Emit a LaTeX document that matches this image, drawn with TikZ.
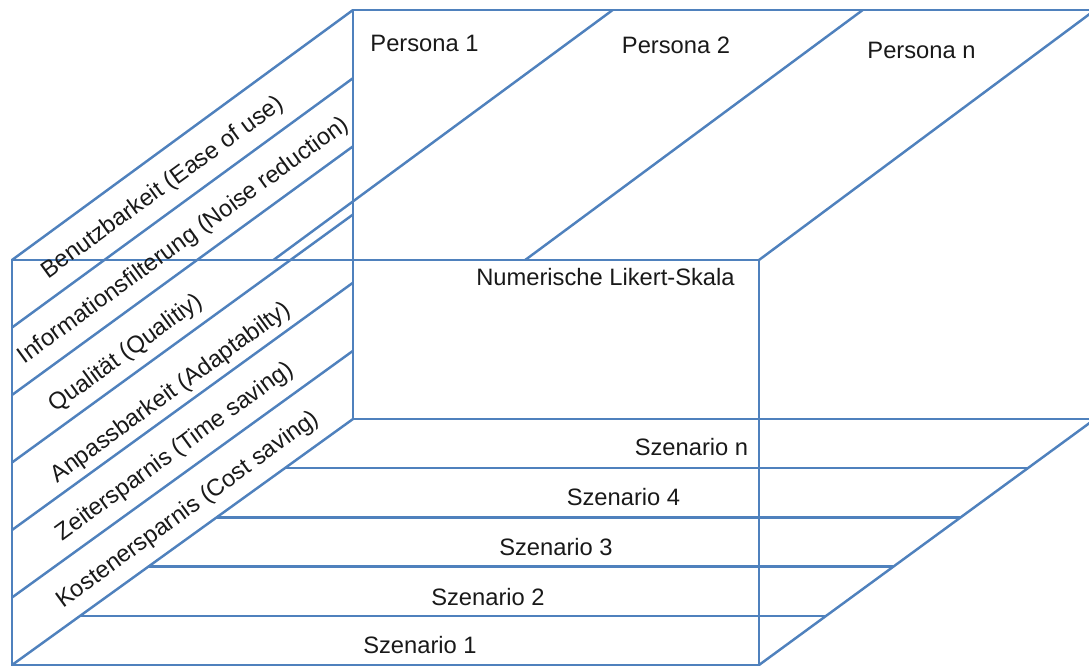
\documentclass[tikz,border=0pt]{standalone}
\usepackage{fontspec}
\setmainfont{Liberation Sans}
\usetikzlibrary{calc}
\definecolor{cubeblue}{HTML}{4F81BD}

\begin{document}
\begin{tikzpicture}[line width = 1.4pt,
                    edge/.style = {draw = cubeblue},
                    lbl/.style = {font = \fontsize{13.5}{16}\selectfont, text = black!90, inner sep = 0pt},
                    crit/.style = {lbl, rotate = 36}]

\useasboundingbox (0,0) rectangle (21.78,-13.36);
\clip (0,0) rectangle (21.78,-13.36);

% corners of the cube
\coordinate (A) at (0.24,-5.2);
\coordinate (B) at (15.18,-5.2);
\coordinate (C) at (15.18,-13.3);
\coordinate (D) at (0.24,-13.3);
\coordinate (E) at (7.06,-0.2);
\coordinate (F) at (21.9,-0.2);
\coordinate (G) at (21.9,-8.38);
\coordinate (H) at (7.06,-8.38);

% front face and back edges
\draw[edge] (A) rectangle (C);
\draw[edge] (F) -- (E) -- (H) -- (G);

% depth edges
\draw[edge] (A) -- (E);
\draw[edge] (B) -- (F);
\draw[edge] (C) -- (G);
\draw[edge] (D) -- (H);

% criteria bands on the left face
\draw[edge] ($(A)!0.1667!(D)$) -- ($(E)!0.1667!(H)$);
\draw[edge] ($(A)!0.3333!(D)$) -- ($(E)!0.3333!(H)$);
\draw[edge] ($(A)!0.5!(D)$) -- ($(E)!0.5!(H)$);
\draw[edge] ($(A)!0.6667!(D)$) -- ($(E)!0.6667!(H)$);
\draw[edge] ($(A)!0.8333!(D)$) -- ($(E)!0.8333!(H)$);

% persona columns on the top face
\draw[edge] ($(A)!0.35!(B)$) -- ($(E)!0.35!(F)$);
\draw[edge] ($(A)!0.687!(B)$) -- ($(E)!0.687!(F)$);

% scenario rows on the bottom face
\draw[edge] ($(D)!0.2!(H)$) -- ($(C)!0.2!(G)$);
\draw[edge] ($(D)!0.4!(H)$) -- ($(C)!0.4!(G)$);
\draw[edge] ($(D)!0.6!(H)$) -- ($(C)!0.6!(G)$);
\draw[edge] ($(D)!0.8!(H)$) -- ($(C)!0.8!(G)$);

% criteria
\node[crit] (c1) at (3.26,-3.76) {Benutzbarkeit (Ease of use)};
\node[crit] (c2) at (3.68,-4.82) {Informationsfilterung (Noise reduction)};
\node[crit] (c3) at (2.52,-7.08) {Qualität (Qualitiy)};
\node[crit] (c4) at (3.42,-7.86) {Anpassbarkeit (Adaptabilty)};
\node[crit] (c5) at (3.5,-9.04) {Zeitersparnis (Time saving)};
\node[crit] (c6) at (3.76,-10.2) {Kostenersparnis (Cost saving)};

% personas
\node[lbl] (p1) at (8.49,-0.86) {Persona 1};
\node[lbl] (p2) at (13.52,-0.9) {Persona 2};
\node[lbl] (pn) at (18.43,-1.0) {Persona n};

\node[lbl] (likert) at (12.11,-5.54) {Numerische Likert-Skala};

% scenarios
\node[lbl] (sn) at (13.83,-8.94) {Szenario n};
\node[lbl] (s4) at (12.47,-9.94) {Szenario 4};
\node[lbl] (s3) at (11.12,-10.94) {Szenario 3};
\node[lbl] (s2) at (9.76,-11.94) {Szenario 2};
\node[lbl] (s1) at (8.4,-12.9) {Szenario 1};

\end{tikzpicture}
\end{document}
